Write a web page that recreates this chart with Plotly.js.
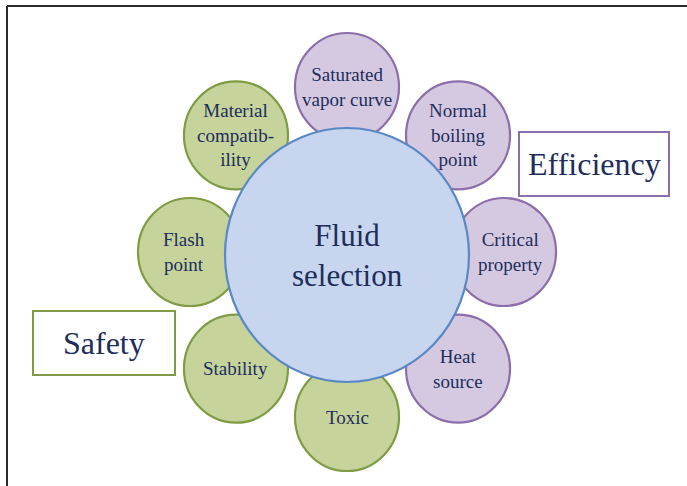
<!DOCTYPE html>
<html>
<head>
<meta charset="utf-8">
<script src="https://cdn.plot.ly/plotly-3.0.1.min.js"></script>
<style>html,body{margin:0;padding:0;background:#fff;}#chart{width:687px;height:486px;}</style>
</head>
<body>
<div id="chart"></div>
<script>
// ---- data ----
const centerLabel = "Fluid<br>selection";
const nodeLabels = [
  "Saturated<br>vapor curve",
  "Normal<br>boiling<br>point",
  "Critical<br>property",
  "Heat<br>source",
  "Toxic",
  "Stability",
  "Flash<br>point",
  "Material<br>compatib-<br>ility"
];
const nodeGroups = ["Efficiency","Efficiency","Efficiency","Efficiency","Safety","Safety","Safety","Safety"];
const groupNames = ["Efficiency","Safety"];

// ---- styles / geometry ----
const W = 687, H = 486;
const styles = {
  Efficiency: {fill:"#d5c9e1", line:"#8c6eaa"},
  Safety:     {fill:"#c6d49c", line:"#7f9b45"}
};
const centerStyle = {fill:"#c7d6ee", line:"#5a88c4"};
const textColor = "#1d2d5c";
const serif = "Liberation Serif, Times New Roman, serif";

const hub = {x:347, y:255, rx:122, ry:127};
const ring = {x:347, y:252, rx:157, ry:165};
const node = {rx:52, ry:54};
const groupBoxes = {
  Efficiency: {x0:519, x1:669, y0:132, y1:196},
  Safety:     {x0:33,  x1:175, y0:311, y1:375}
};

const shapes = [];
const annotations = [];

// frame lines (top and left)
shapes.push({type:"line", x0:7, x1:W, y0:6, y1:6, line:{color:"#2a2a2a", width:2}});
shapes.push({type:"line", x0:7, x1:7, y0:6, y1:H, line:{color:"#2a2a2a", width:2}});

// outer nodes
nodeLabels.forEach((lab, i) => {
  const a = (90 - 45 * i) * Math.PI / 180;
  const cx = ring.x + ring.rx * Math.cos(a);
  const cy = ring.y - ring.ry * Math.sin(a);
  const st = styles[nodeGroups[i]];
  shapes.push({type:"circle", x0:cx-node.rx, x1:cx+node.rx, y0:cy-node.ry, y1:cy+node.ry,
    fillcolor:st.fill, line:{color:st.line, width:2.2}});
  const tx = cx + (Math.abs(Math.cos(a)) > 0.99 ? 6 * Math.cos(a) : 0);
  annotations.push({x:tx, y:cy, text:lab, showarrow:false, xanchor:"center", yanchor:"middle",
    font:{family:serif, size:19, color:textColor}});
});

// hub
shapes.push({type:"circle", x0:hub.x-hub.rx, x1:hub.x+hub.rx, y0:hub.y-hub.ry, y1:hub.y+hub.ry,
  fillcolor:centerStyle.fill, line:{color:centerStyle.line, width:2.2}});
annotations.push({x:hub.x, y:hub.y, text:centerLabel, showarrow:false, xanchor:"center", yanchor:"middle",
  font:{family:serif, size:31, color:textColor}});

// group boxes
groupNames.forEach(g => {
  const b = groupBoxes[g];
  shapes.push({type:"rect", x0:b.x0, x1:b.x1, y0:b.y0, y1:b.y1, fillcolor:"#ffffff",
    line:{color:styles[g].line, width:2}});
  annotations.push({x:(b.x0+b.x1)/2, y:(b.y0+b.y1)/2, text:g, showarrow:false,
    xanchor:"center", yanchor:"middle", font:{family:serif, size:32, color:textColor}});
});

const layout = {
  width:W, height:H,
  margin:{l:0, r:0, t:0, b:0},
  paper_bgcolor:"#ffffff", plot_bgcolor:"#ffffff",
  xaxis:{range:[0,W], visible:false, fixedrange:true},
  yaxis:{range:[H,0], visible:false, fixedrange:true},
  showlegend:false,
  shapes:shapes,
  annotations:annotations
};
Plotly.newPlot("chart", [{x:[], y:[], type:"scatter", mode:"markers", hoverinfo:"skip"}], layout,
  {staticPlot:true, displayModeBar:false});
</script>
</body>
</html>
